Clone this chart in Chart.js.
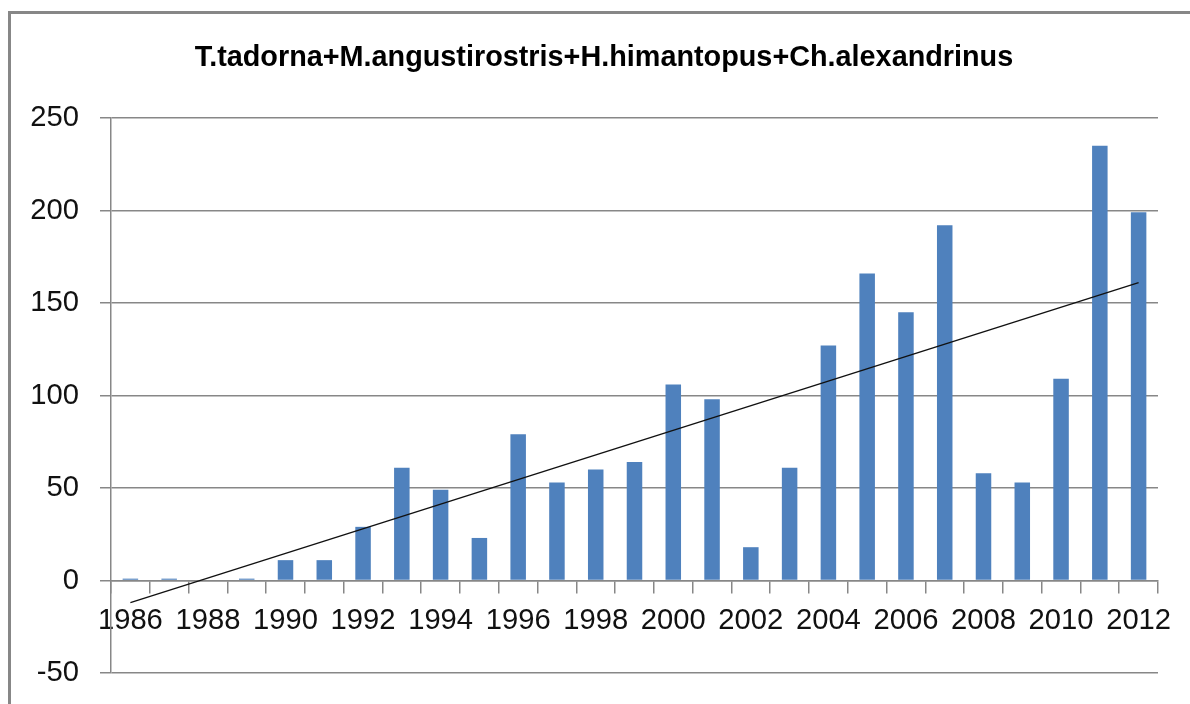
<!DOCTYPE html>
<html><head><meta charset="utf-8">
<script src="https://cdn.jsdelivr.net/npm/chart.js@4.4.1/dist/chart.umd.min.js"></script>
<style>
html,body{margin:0;padding:0;background:#fff;overflow:hidden;width:1190px;height:704px}
#frame{position:absolute;left:8px;top:11px;width:1200px;height:720px;border-top:3px solid #878787;border-left:3px solid #878787}
canvas{position:absolute;left:0;top:0}
</style></head>
<body>
<div id="frame"></div>
<canvas id="c" width="1190" height="704"></canvas>
<script>
const chartTitle = 'T.tadorna+M.angustirostris+H.himantopus+Ch.alexandrinus';
const years = ['1986','1987','1988','1989','1990','1991','1992','1993','1994','1995','1996','1997','1998','1999',
               '2000','2001','2002','2003','2004','2005','2006','2007','2008','2009','2010','2011','2012'];
const counts = [1, 1, 0, 1, 11, 11, 29, 61, 49, 23, 79, 53, 60, 64,
                106, 98, 18, 61, 127, 166, 145, 192, 58, 53, 109, 235, 199];
const trendEnds = [-12, 161];          // linear trend value at first and last year
const yTicks = [-50, 0, 50, 100, 150, 200, 250];

const FAM = "'Liberation Sans', Arial, sans-serif";
const TFAM = "'Liberation Sans', Arial, sans-serif";
const mctx = document.createElement('canvas').getContext('2d');
mctx.font = 'bold 100px ' + TFAM;
const titleSize = Math.round(100 * 818 / mctx.measureText(chartTitle).width * 10) / 10;
mctx.font = '100px ' + FAM;
const tickSize = Math.round(100 * 65 / mctx.measureText('1986').width * 10) / 10;

const trendData = years.map((_, i) => i === 0 ? trendEnds[0] : (i === years.length - 1 ? trendEnds[1] : null));
const GRID = '#878787';

const shiftTitle = {
  id: 'shiftTitle',
  afterLayout(chart) { if (chart.titleBlock) { chart.titleBlock.left = 50; } }
};

new Chart(document.getElementById('c'), {
  data: {
    labels: years,
    datasets: [
      { type: 'line', data: trendData, spanGaps: true, borderColor: '#111', borderWidth: 1.4,
        pointRadius: 0, fill: false, order: 0 },
      { type: 'bar', data: counts, backgroundColor: '#4F81BD', barPercentage: 0.4,
        categoryPercentage: 1.0, order: 1 }
    ]
  },
  plugins: [shiftTitle],
  options: {
    responsive: false, animation: false, devicePixelRatio: 1,
    layout: { padding: { left: 0, right: 32, top: 0, bottom: 31 } },
    plugins: {
      legend: { display: false }, tooltip: { enabled: false },
      title: { display: true, text: chartTitle, color: '#000',
        font: { family: TFAM, size: titleSize, weight: 'bold', lineHeight: 1.2 },
        padding: { top: 58 - 0.6 * titleSize, bottom: 60 - 0.6 * titleSize } }
    },
    scales: {
      x: {
        position: { y: 0 },
        grid: { drawOnChartArea: false, drawTicks: true, tickLength: 12, offset: true, color: GRID, lineWidth: 1.5 },
        border: { display: true, color: GRID, width: 1.5 },
        ticks: { autoSkip: false, maxRotation: 0, minRotation: 0, padding: 11, color: '#111',
          font: { family: FAM, size: tickSize },
          callback: (v, i) => (i % 2 === 0 ? years[i] : '') }
      },
      y: {
        min: yTicks[0], max: yTicks[yTicks.length - 1],
        afterFit: s => { s.width = 111; s.paddingTop = 0; s.paddingBottom = 0; },
        afterBuildTicks: s => { s.ticks = yTicks.map(v => ({ value: v })); },
        grid: { color: GRID, lineWidth: 1.5, tickLength: 11 },
        border: { display: true, color: GRID, width: 1.5 },
        ticks: { padding: 21, color: '#111', font: { family: FAM, size: tickSize } }
      }
    }
  }
});
</script>
</body></html>
